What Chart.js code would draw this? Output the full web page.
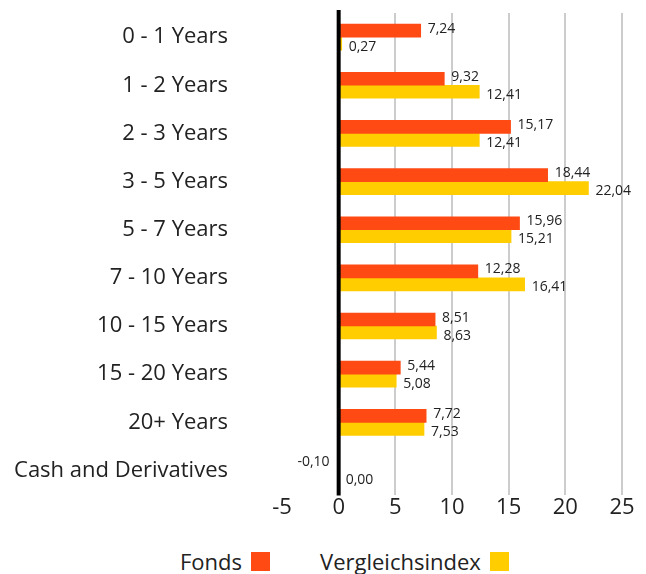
<!DOCTYPE html>
<html>
<head>
<meta charset="utf-8">
<script src="https://cdn.jsdelivr.net/npm/chart.js@4"></script>
<style>
  body { margin: 0; background: #fff; font-family: "Open Sans", sans-serif; }
  #wrap { position: relative; width: 646px; height: 530px; }
  #legend { display: flex; justify-content: flex-start; align-items: center; height: 62px; font-size: 22px; color: #222; padding-left: 180px; }
  #legend .item { display: flex; align-items: center; margin-right: 50px; }
  #legend .box { width: 19px; height: 19px; margin-left: 9px; }
</style>
</head>
<body>
<div id="wrap"><canvas id="chart"></canvas></div>
<div id="legend"></div>
<script>
// Categories and series
const categories = ['0 - 1 Years', '1 - 2 Years', '2 - 3 Years', '3 - 5 Years', '5 - 7 Years',
    '7 - 10 Years', '10 - 15 Years', '15 - 20 Years', '20+ Years', 'Cash and Derivatives'];
const fondsValues = [7.24, 9.32, 15.17, 18.44, 15.96, 12.28, 8.51, 5.44, 7.72, -0.10];
const indexValues = [0.27, 12.41, 12.41, 22.04, 15.21, 16.41, 8.63, 5.08, 7.53, 0.00];
const seriesNames = ['Fonds', 'Vergleichsindex'];
const seriesColors = ['#FF4A14', '#FFCD00'];
const xTicks = [-5, 0, 5, 10, 15, 20, 25];

const fmt = v => v.toFixed(2).replace('.', ',');

// Value labels next to bar ends, and the zero line on top of the bars
const valueLabels = {
    id: 'valueLabels',
    afterDatasetsDraw(chart) {
        const ctx = chart.ctx;
        const area = chart.chartArea;
        ctx.save();
        const x0 = chart.scales.x.getPixelForValue(0);
        ctx.strokeStyle = '#000';
        ctx.lineWidth = 4;
        ctx.beginPath();
        ctx.moveTo(x0, area.top - 3);
        ctx.lineTo(x0, area.bottom + 1);
        ctx.stroke();

        ctx.font = '14px "Open Sans", sans-serif';
        ctx.fillStyle = '#222';
        ctx.textBaseline = 'middle';
        chart.data.datasets.forEach((ds, di) => {
            chart.getDatasetMeta(di).data.forEach((bar, i) => {
                const v = ds.data[i];
                const dy = di === 0 ? -2 : 3;
                if (v < 0) {
                    ctx.textAlign = 'right';
                    ctx.fillText(fmt(v), bar.x - 8, bar.y + dy);
                } else {
                    ctx.textAlign = 'left';
                    ctx.fillText(fmt(v), Math.max(bar.x, bar.base) + 7, bar.y + dy);
                }
            });
        });
        ctx.restore();
    }
};

const ctx = document.getElementById('chart').getContext('2d');
new Chart(ctx, {
    type: 'bar',
    data: {
        labels: categories,
        datasets: [
            { label: seriesNames[0], data: fondsValues, backgroundColor: seriesColors[0] },
            { label: seriesNames[1], data: indexValues, backgroundColor: seriesColors[1] }
        ]
    },
    options: {
        responsive: true,
        maintainAspectRatio: false,
        animation: false,
        indexAxis: 'y',
        layout: { padding: { left: 14, right: 24, top: 13, bottom: 9 } },
        datasets: { bar: { barThickness: 13, categoryPercentage: 1, barPercentage: 1 } },
        plugins: { legend: { display: false }, tooltip: { enabled: false } },
        scales: {
            x: {
                min: -5, max: 25,
                afterBuildTicks: axis => { axis.ticks = xTicks.map(v => ({ value: v })); },
                border: { display: false },
                grid: {
                    drawTicks: false,
                    color: c => (c.tick.value === 0 || c.tick.value === -5) ? 'rgba(0,0,0,0)' : '#cccccc',
                    lineWidth: 2
                },
                ticks: { color: '#222', font: { size: 22, family: 'Open Sans' }, padding: 0 }
            },
            y: {
                border: { display: false },
                grid: { display: false, drawTicks: false },
                ticks: { color: '#222', font: { size: 22, family: 'Open Sans' }, padding: 54 },
                afterFit: axis => {
                    axis.width = 268;
                    axis.paddingTop = 0;
                    axis.paddingBottom = 0;
                }
            }
        }
    },
    plugins: [valueLabels]
});

// Legend: label first, then coloured box
const legend = document.getElementById('legend');
seriesNames.forEach((name, i) => {
    const item = document.createElement('div');
    item.className = 'item';
    item.innerHTML = '<span>' + name + '</span><span class="box" style="background:' + seriesColors[i] + '"></span>';
    legend.appendChild(item);
});
</script>
</body>
</html>
